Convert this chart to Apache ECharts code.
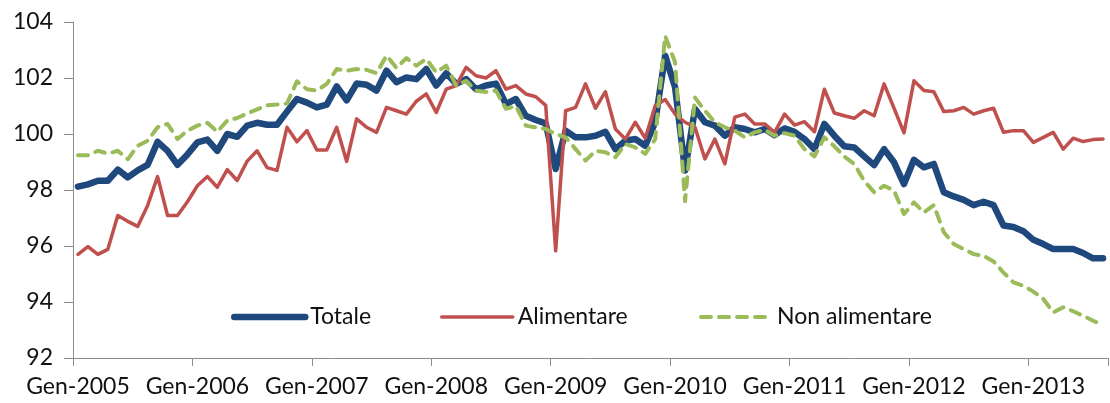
<!DOCTYPE html>
<html>
<head>
<meta charset="utf-8">
<script src="https://cdn.jsdelivr.net/npm/echarts@6/dist/echarts.min.js"></script>
<style>
html,body{margin:0;padding:0;background:#fff;}
#chart{width:1110px;height:403px;}
</style>
</head>
<body>
<div id="chart"></div>
<script>
const months = ['Gen','Feb','Mar','Apr','Mag','Giu','Lug','Ago','Set','Ott','Nov','Dic'];
const years = [2005,2006,2007,2008,2009,2010,2011,2012,2013];
const nPoints = 104;
const yTicks = {min: 92, max: 104, interval: 2};
const seriesNames = ['Totale','Alimentare','Non alimentare'];

const totale = [
98.12,98.2,98.33,98.33,98.73,98.45,98.7,98.9,99.72,99.4,98.9,99.27,
99.7,99.8,99.4,100.0,99.9,100.3,100.4,100.33,100.33,100.8,101.25,101.12,
100.95,101.05,101.7,101.2,101.8,101.76,101.55,102.26,101.85,102.02,101.96,102.32,
101.73,102.17,101.79,101.96,101.6,101.73,101.8,101.07,101.25,100.65,100.5,100.38,
98.75,100.12,99.88,99.88,99.94,100.08,99.46,99.76,99.82,99.58,100.42,102.8,
101.67,98.7,100.89,100.42,100.3,99.94,100.24,100.18,100.06,100.18,99.96,100.2,
100.08,99.82,99.46,100.36,99.94,99.56,99.52,99.2,98.89,99.46,98.99,98.21,
99.08,98.81,98.93,97.92,97.77,97.65,97.46,97.58,97.46,96.73,96.68,96.53,
96.22,96.07,95.89,95.89,95.89,95.75,95.56,95.56
];
const alimentare = [
95.7,95.98,95.7,95.88,97.09,96.88,96.7,97.45,98.48,97.09,97.09,97.58,
98.15,98.48,98.1,98.73,98.34,99.03,99.4,98.8,98.7,100.24,99.72,100.12,
99.43,99.43,100.24,99.02,100.54,100.24,100.06,100.95,100.83,100.71,101.17,101.43,
100.77,101.6,101.73,102.38,102.08,102.0,102.26,101.6,101.73,101.43,101.33,101.02,
95.83,100.83,100.95,101.79,100.92,101.51,100.18,99.82,100.42,99.85,101.01,101.23,
100.71,100.42,100.24,99.11,99.82,98.93,100.6,100.71,100.36,100.36,100.06,100.71,
100.32,100.44,100.08,101.6,100.75,100.65,100.56,100.83,100.65,101.79,100.92,100.04,
101.9,101.55,101.51,100.8,100.83,100.95,100.71,100.83,100.92,100.06,100.12,100.12,
99.7,99.88,100.06,99.46,99.85,99.73,99.8,99.82
];
const nonAlimentare = [
99.24,99.24,99.4,99.3,99.4,99.1,99.58,99.76,100.24,100.36,99.82,100.12,
100.3,100.4,100.08,100.48,100.57,100.73,100.88,101.03,101.05,101.09,101.88,101.6,
101.55,101.79,102.32,102.26,102.32,102.29,102.17,102.8,102.36,102.71,102.44,102.68,
102.2,102.44,101.73,101.9,101.55,101.5,101.55,100.9,101.0,100.3,100.24,100.18,
100.0,99.88,99.46,99.05,99.4,99.35,99.17,99.64,99.52,99.29,99.82,103.5,
102.56,97.6,101.3,100.83,100.42,100.24,100.12,99.88,100.06,100.15,99.94,100.03,
99.94,99.46,99.2,99.88,99.56,99.2,98.93,98.33,97.92,98.15,97.98,97.14,
97.56,97.2,97.46,96.49,96.07,95.89,95.71,95.65,95.45,95.05,94.7,94.58,
94.37,94.11,93.63,93.81,93.67,93.51,93.33,93.18
];

const categories = [];
for (let i = 0; i < nPoints; i++) {
  categories.push(months[i % 12] + '-' + years[Math.floor(i / 12)]);
}

const FONT = 'Lato';
const textCol = '#111';
const axisCol = '#8c8c8c';
const colors = ['#1F497D', '#C0504D', '#9BBB59'];
const widths = [6.5, 3.5, 4];
const dash = [10, 8];

const chart = echarts.init(document.getElementById('chart'), null, {renderer: 'canvas'});

function legendAt(left, idx) {
  return {
    show: true,
    data: [seriesNames[idx]],
    left: left,
    top: 305,
    itemWidth: 71,
    itemHeight: 14,
    itemGap: 0,
    padding: 0,
    itemStyle: {opacity: 0},
    lineStyle: {width: widths[idx], color: colors[idx], cap: 'round', type: idx === 2 ? dash : 'solid'},
    textStyle: {fontFamily: FONT, fontSize: 23, color: textCol, lineHeight: 24},
    selectedMode: false
  };
}

chart.setOption({
  animation: false,
  backgroundColor: '#fff',
  color: colors,
  grid: {left: 73, right: 2, top: 22, bottom: 45, containLabel: false},
  legend: [legendAt(231, 0), legendAt(440, 1), legendAt(699, 2)],
  xAxis: {
    type: 'category',
    data: categories,
    boundaryGap: true,
    axisLine: {show: true, lineStyle: {color: axisCol, width: 1}},
    axisTick: {show: true, interval: 11, length: 8, lineStyle: {color: axisCol}},
    axisLabel: {interval: 11, fontFamily: FONT, fontSize: 23, color: textCol, margin: 17},
    splitLine: {show: false}
  },
  yAxis: {
    type: 'value',
    min: yTicks.min, max: yTicks.max, interval: yTicks.interval,
    axisLine: {show: true, lineStyle: {color: axisCol, width: 1}},
    axisTick: {show: true, length: 9, lineStyle: {color: axisCol}},
    axisLabel: {fontFamily: FONT, fontSize: 23, color: textCol, margin: 20},
    splitLine: {show: false}
  },
  series: [
    {name: seriesNames[0], type: 'line', data: totale, symbol: 'none',
     lineStyle: {color: colors[0], width: widths[0], cap: 'round', join: 'round'}},
    {name: seriesNames[1], type: 'line', data: alimentare, symbol: 'none',
     lineStyle: {color: colors[1], width: widths[1], cap: 'round', join: 'round'}},
    {name: seriesNames[2], type: 'line', data: nonAlimentare, symbol: 'none',
     lineStyle: {color: colors[2], width: widths[2], type: dash, cap: 'round', join: 'round'}}
  ]
});
</script>
</body>
</html>
